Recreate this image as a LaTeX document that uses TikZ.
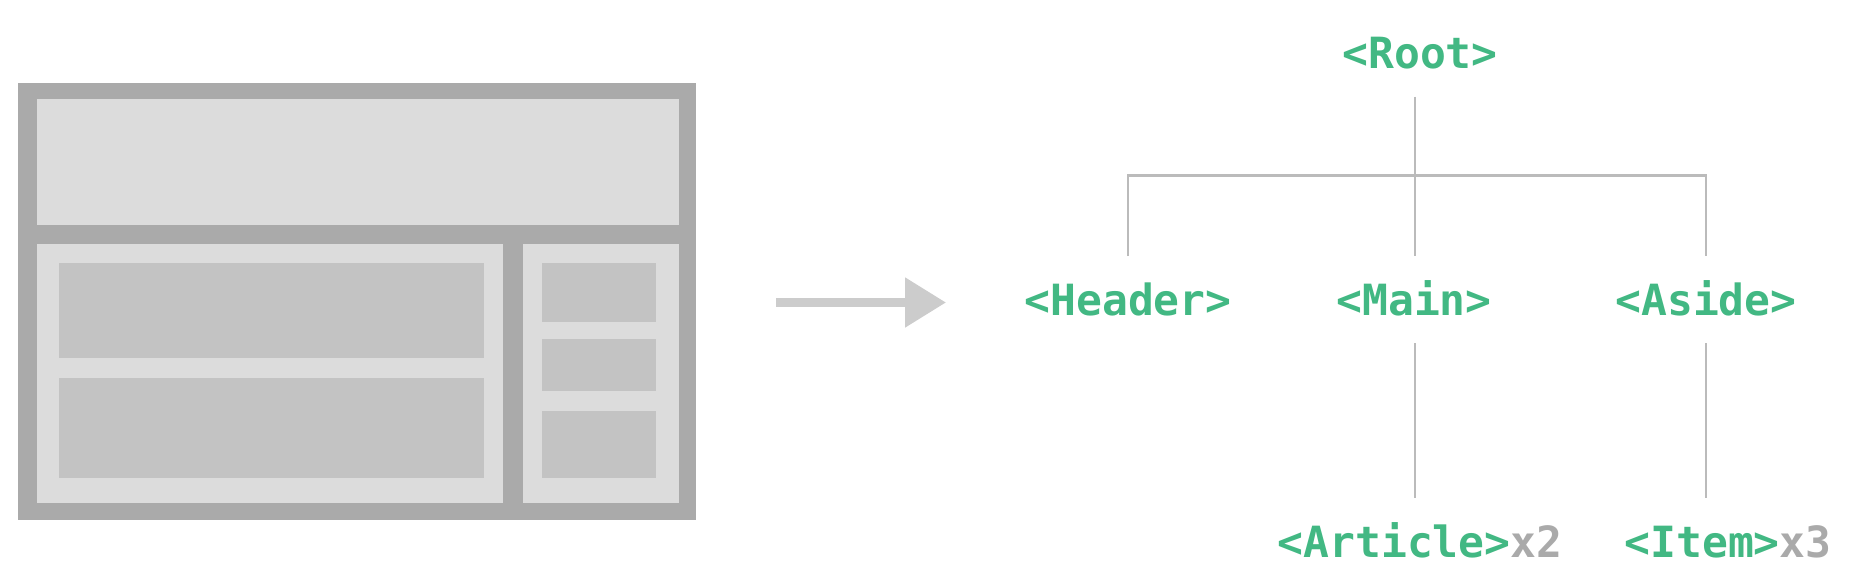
\documentclass[tikz,border=0pt]{standalone}
\usepackage{fontspec}
\setmonofont{DejaVu Sans Mono}
\usetikzlibrary{arrows.meta}
\definecolor{vgreen}{HTML}{42B883}
\definecolor{vgray}{HTML}{AAAAAA}
\definecolor{frame}{HTML}{AAAAAA}
\definecolor{panel}{HTML}{DCDCDC}
\definecolor{block}{HTML}{C3C3C3}
\definecolor{wire}{HTML}{BBBBBB}
\definecolor{arrowgray}{HTML}{CCCCCC}

\begin{document}
\begin{tikzpicture}[
 x=1pt,y=-1pt,
 tg/.style={inner sep=0pt,outer ysep=28pt,anchor=base,text height=31pt,text depth=0pt,text=vgreen,font=\fontsize{43}{50}\selectfont\ttfamily\bfseries},
 ln/.style={draw=wire,line width=2.2pt}
]
\useasboundingbox (0,0) rectangle (1852,586);
% page mock-up
\node[fill=frame,inner sep=0pt,minimum width=678pt,minimum height=437pt,anchor=north west] (page) at (17.7,82.7) {};
\fill[panel] (37,99.3) rectangle (678.8,224.5);
\fill[panel] (37,244) rectangle (502.9,503.1);
\fill[panel] (522.8,244) rectangle (678.8,503.1);
\fill[block] (59.1,263.4) rectangle (483.5,357.6);
\fill[block] (59.1,378.1) rectangle (483.5,478.2);
\foreach \ya/\yb in {263.4/321.7,338.8/390.8,411.3/478.2}
  \fill[block] (541.8,\ya) rectangle (656.4,\yb);
% arrow
\coordinate (from) at (776,302.5);
\coordinate (to) at (946,302.5);
\draw[arrowgray,line width=8.5pt,-{Triangle[length=41pt,width=48pt]}] (from) -- (to);
% tree
\node[tg] (root) at (1420,68.5) {<Root>};
\node[tg] (header) at (1128,315) {<Header>};
\node[tg] (main) at (1414,315) {<Main>};
\node[tg] (aside) at (1706,315) {<Aside>};
\node[tg] (article) at (1420,557) {<Article>\textcolor{vgray}{x2}};
\node[tg] (item) at (1728,557) {<Item>\textcolor{vgray}{x3}};
\coordinate (fork) at (1415,175.5);
\draw[ln] (header.north) |- (fork) -| (aside.north);
\draw[ln] (fork |- root.south) -- (fork |- main.north);
\draw[ln] (fork |- main.south) -- (fork |- article.north);
\draw[ln] (aside.south) -- (aside.south |- item.north);
\end{tikzpicture}
\end{document}
